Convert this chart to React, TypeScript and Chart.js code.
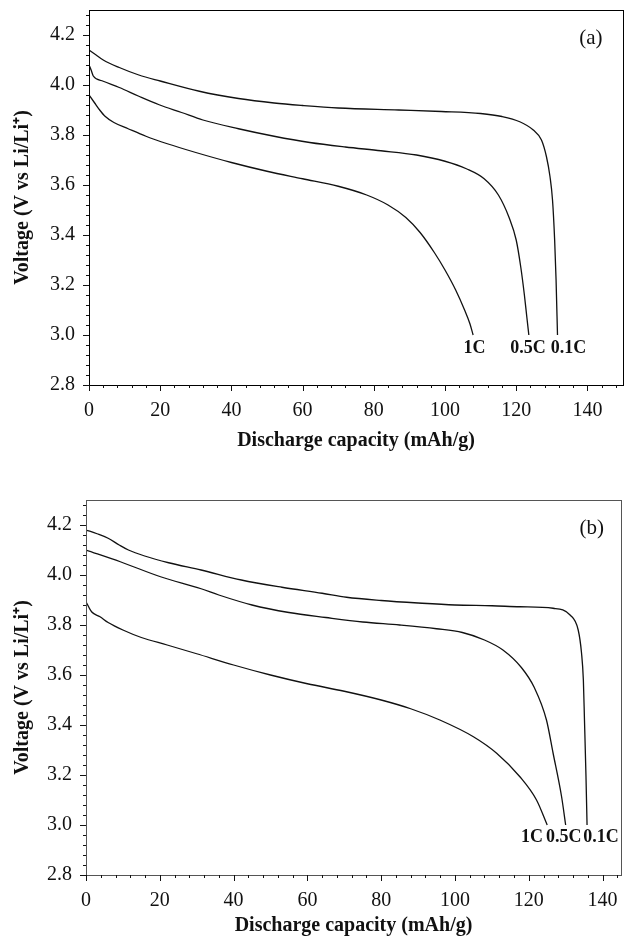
import React, { useEffect, useRef } from 'react';
import { Chart, registerables } from 'chart.js';

Chart.register(...registerables);

// ---------- data: panel (a) ----------
const capA01 = [0, 2, 4, 8.5, 14, 20, 31, 42, 52, 60, 70, 87, 99, 110, 116, 121, 124.8, 127.1, 128.5, 129.5, 130.2, 130.8, 131.2, 131.6];
const voltA01 = [4.14, 4.12, 4.10, 4.07, 4.04, 4.016, 3.975, 3.946, 3.928, 3.918, 3.908, 3.90, 3.894, 3.886, 3.874, 3.853, 3.82, 3.78, 3.713, 3.633, 3.54, 3.38, 3.22, 3.0];
const capA05 = [0, 0.6, 1.2, 4, 8.5, 14, 19.7, 26, 32, 42, 52, 62, 72, 82, 92, 100, 106, 111, 115, 118, 120, 121.3, 122.3, 123, 123.55];
const voltA05 = [4.08, 4.06, 4.036, 4.015, 3.99, 3.955, 3.921, 3.89, 3.86, 3.825, 3.795, 3.77, 3.752, 3.737, 3.72, 3.695, 3.665, 3.625, 3.56, 3.47, 3.38, 3.27, 3.16, 3.07, 3.0];
const capA1 = [0, 1.5, 3, 4.5, 7, 11, 16, 22, 30, 40, 50, 60, 70, 78, 84, 89, 93, 97, 100, 103, 105.5, 107, 107.9];
const voltA1 = [3.96, 3.93, 3.9, 3.875, 3.85, 3.825, 3.795, 3.765, 3.73, 3.69, 3.655, 3.625, 3.595, 3.56, 3.52, 3.47, 3.41, 3.33, 3.26, 3.18, 3.10, 3.045, 3.0];

// ---------- data: panel (b) ----------
const capB01 = [0, 3, 6, 9, 11.5, 15.9, 22.4, 31.2, 42.1, 53.1, 64, 70.6, 80, 90, 100, 110, 117.6, 126.6, 131.2, 133.4, 134.3, 134.8, 135.1, 135.5, 135.8];
const voltB01 = [4.18, 4.165, 4.147, 4.12, 4.10, 4.076, 4.049, 4.02, 3.98, 3.951, 3.927, 3.911, 3.898, 3.888, 3.88, 3.877, 3.873, 3.867, 3.84, 3.78, 3.688, 3.58, 3.42, 3.2, 3.0];
const capB05 = [0, 9.3, 20.2, 31.2, 36, 45, 55, 65, 75, 85, 95, 102, 108, 113, 118, 121.5, 124.8, 126.6, 128.9, 130];
const voltB05 = [4.10, 4.053, 3.993, 3.945, 3.92, 3.88, 3.85, 3.83, 3.812, 3.80, 3.785, 3.77, 3.74, 3.70, 3.63, 3.55, 3.42, 3.287, 3.113, 3.0];
const capB1 = [0, 1.5, 3.8, 6, 10, 15, 22, 30, 40, 50, 60, 70, 80, 88, 95.9, 105, 111.3, 117.6, 122.1, 125];
const voltB1 = [3.893, 3.853, 3.833, 3.81, 3.78, 3.75, 3.72, 3.685, 3.64, 3.60, 3.565, 3.535, 3.50, 3.465, 3.42, 3.353, 3.287, 3.193, 3.10, 3.0];

// ---------- ticks / labels ----------
const xTickValues = [0, 20, 40, 60, 80, 100, 120, 140];
const yTickValues = [2.8, 3.0, 3.2, 3.4, 3.6, 3.8, 4.0, 4.2];
const rateNames = ['1C', '0.5C', '0.1C'];
const xTitle = 'Discharge capacity (mAh/g)';
const yTitle = 'Voltage (V vs Li/Li\u207A)';

const SERIF = "'Liberation Serif', 'Times New Roman', serif";
const INK = '#111';

type Panel = {
  tag: string;
  series: { cap: number[]; volt: number[] }[];
  xMax: number;
  padTop: number;
  padRight: number;
  yAxisWidth: number;
  xAxisHeight: number;
  xTitlePad: number;
  frameColor: string;
  tagPos: { x: number; y: number };
  rateLabelPos: { x: number; y: number }[];
};

const panels: Panel[] = [
  {
    tag: '(a)',
    series: [
      { cap: capA1, volt: voltA1 },
      { cap: capA05, volt: voltA05 },
      { cap: capA01, volt: voltA01 },
    ],
    xMax: 150,
    padTop: 10,
    padRight: 5,
    yAxisWidth: 89,
    xAxisHeight: 86,
    xTitlePad: 18,
    frameColor: '#000',
    tagPos: { x: 141, y: 4.188 },
    rateLabelPos: [
      { x: 108.3, y: 2.948 },
      { x: 123.3, y: 2.948 },
      { x: 134.7, y: 2.948 },
    ],
  },
  {
    tag: '(b)',
    series: [
      { cap: capB1, volt: voltB1 },
      { cap: capB05, volt: voltB05 },
      { cap: capB01, volt: voltB01 },
    ],
    xMax: 145,
    padTop: 29,
    padRight: 7,
    yAxisWidth: 86,
    xAxisHeight: 67,
    xTitlePad: 4,
    frameColor: '#555',
    tagPos: { x: 137.1, y: 4.188 },
    rateLabelPos: [
      { x: 120.9, y: 2.952 },
      { x: 129.5, y: 2.952 },
      { x: 139.6, y: 2.952 },
    ],
  },
];

const frameTicksPlugin = {
  id: 'frameTicks',
  afterDraw(chart: any, _args: any, opts: any) {
    const { ctx, chartArea: ca, scales } = chart;
    const xs = scales.x;
    const ys = scales.y;
    ctx.save();
    ctx.strokeStyle = opts.frameColor;
    ctx.lineWidth = 1;
    ctx.strokeRect(Math.round(ca.left) + 0.5, Math.round(ca.top) + 0.5, Math.round(ca.right - ca.left), Math.round(ca.bottom - ca.top));

    ctx.strokeStyle = INK;
    const xStep = 4;
    const nx = Math.floor((xs.max - xs.min) / xStep + 1e-6);
    for (let i = 0; i <= nx; i++) {
      const v = xs.min + i * xStep;
      const px = Math.round(xs.getPixelForValue(v)) + 0.5;
      const len = i % 5 === 0 ? 6 : 3;
      ctx.beginPath();
      ctx.moveTo(px, Math.round(ca.bottom));
      ctx.lineTo(px, Math.round(ca.bottom) + len);
      ctx.stroke();
    }
    const yStep = 0.04;
    const ny = Math.floor((ys.max - ys.min) / yStep + 1e-6);
    for (let i = 0; i <= ny; i++) {
      const v = ys.min + i * yStep;
      const py = Math.round(ys.getPixelForValue(v)) + 0.5;
      const len = i % 5 === 0 ? 6 : 3;
      ctx.beginPath();
      ctx.moveTo(Math.round(ca.left), py);
      ctx.lineTo(Math.round(ca.left) - len, py);
      ctx.stroke();
    }

    ctx.fillStyle = INK;
    ctx.textAlign = 'center';
    ctx.textBaseline = 'middle';
    ctx.font = `21px ${SERIF}`;
    ctx.fillText(opts.tag, xs.getPixelForValue(opts.tagPos.x), ys.getPixelForValue(opts.tagPos.y));
    ctx.font = `bold 18px ${SERIF}`;
    opts.rateLabelPos.forEach((p: any, i: number) => {
      ctx.fillText(rateNames[i], xs.getPixelForValue(p.x), ys.getPixelForValue(p.y));
    });
    ctx.restore();
  },
};

function makeConfig(p: Panel): any {
  return {
    type: 'line',
    data: {
      datasets: p.series.map((s, k) => ({
        label: rateNames[k],
        data: s.cap.map((c, i) => ({ x: c, y: s.volt[i] })),
        borderColor: INK,
        borderWidth: 1.3,
        pointRadius: 0,
        fill: false,
        cubicInterpolationMode: 'monotone',
      })),
    },
    options: {
      animation: false,
      responsive: false,
      maintainAspectRatio: false,
      devicePixelRatio: 1,
      layout: { padding: { left: 0, top: p.padTop, right: p.padRight, bottom: 0 } },
      plugins: {
        legend: { display: false },
        tooltip: { enabled: false },
        frameTicks: {
          frameColor: p.frameColor,
          tag: p.tag,
          tagPos: p.tagPos,
          rateLabelPos: p.rateLabelPos,
        },
      },
      scales: {
        x: {
          type: 'linear',
          min: 0,
          max: p.xMax,
          grid: { display: false, drawTicks: false },
          border: { display: false },
          afterBuildTicks: (s: any) => {
            s.ticks = xTickValues.map((v) => ({ value: v }));
          },
          ticks: {
            padding: 14,
            autoSkip: false,
            maxRotation: 0,
            color: INK,
            font: { family: SERIF, size: 20 },
            callback: (v: any) => String(v),
          },
          title: {
            display: true,
            text: xTitle,
            color: INK,
            font: { family: SERIF, size: 20, weight: 'bold' },
            padding: { top: 0, bottom: p.xTitlePad },
          },
          afterFit: (s: any) => {
            s.height = p.xAxisHeight;
            s.paddingLeft = 0;
            s.paddingRight = 0;
          },
        },
        y: {
          type: 'linear',
          min: 2.8,
          max: 4.3,
          grid: { display: false, drawTicks: false },
          border: { display: false },
          afterBuildTicks: (s: any) => {
            s.ticks = yTickValues.map((v) => ({ value: v }));
          },
          ticks: {
            padding: 14,
            autoSkip: false,
            color: INK,
            font: { family: SERIF, size: 20 },
            callback: (v: any) => Number(v).toFixed(1),
          },
          title: {
            display: true,
            text: yTitle,
            color: INK,
            font: { family: SERIF, size: 20, weight: 'bold' },
            padding: { top: 11, bottom: 0 },
          },
          afterFit: (s: any) => {
            s.width = p.yAxisWidth;
            s.paddingTop = 0;
            s.paddingBottom = 0;
          },
        },
      },
    },
    plugins: [frameTicksPlugin],
  };
}

function PanelChart({ panel }: { panel: Panel }) {
  const ref = useRef<HTMLCanvasElement | null>(null);
  useEffect(() => {
    if (!ref.current) return;
    const chart = new Chart(ref.current, makeConfig(panel));
    return () => chart.destroy();
  }, [panel]);
  return <canvas ref={ref} width={628} height={471} style={{ display: 'block', width: 628, height: 471 }} />;
}

export default function App() {
  return (
    <div style={{ position: 'absolute', left: 0, top: 0, width: 628, height: 942, background: '#fff' }}>
      {panels.map((p) => (
        <PanelChart key={p.tag} panel={p} />
      ))}
    </div>
  );
}
